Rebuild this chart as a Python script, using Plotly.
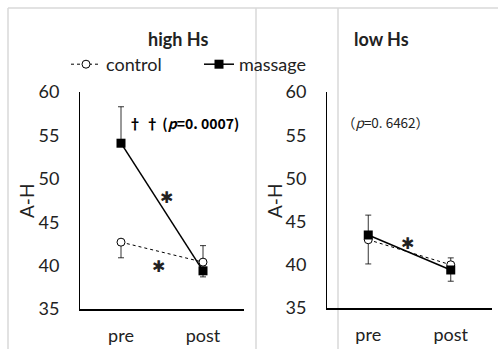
import plotly.graph_objects as go

W, H = 498, 349

categories = ["pre", "post"]
y_ticks = [35, 40, 45, 50, 55, 60]

high_control = [42.7, 40.4]
high_control_plus = [0, 1.9]
high_control_minus = [1.8, 0]
high_massage = [54.1, 39.4]
high_massage_plus = [4.2, 0]
high_massage_minus = [0, 0.7]

low_control = [42.9, 40.0]
low_control_plus = [0, 0.8]
low_control_minus = [2.8, 0]
low_massage = [43.45, 39.4]
low_massage_plus = [2.3, 0]
low_massage_minus = [0, 1.3]

FONT = "Lato, 'Open Sans', sans-serif"
CJK = "'Noto Sans CJK JP', sans-serif"


def px(x):
    return x / W


def py(y):
    return 1 - y / H


fig = go.Figure()


def add_pair(ctrl, cp, cm, mass, mp, mm, xa, ya, show):
    fig.add_trace(go.Scatter(
        x=categories, y=ctrl, name="control", mode="lines+markers",
        xaxis=xa, yaxis=ya, showlegend=show,
        line=dict(color="black", width=1, dash="dot"),
        marker=dict(symbol="circle", size=8, color="white",
                    line=dict(color="black", width=1)),
        error_y=dict(type="data", symmetric=False, array=cp, arrayminus=cm,
                     color="black", thickness=0.8, width=3),
    ))
    fig.add_trace(go.Scatter(
        x=categories, y=mass, name="massage", mode="lines+markers",
        xaxis=xa, yaxis=ya, showlegend=show,
        line=dict(color="black", width=1.5),
        marker=dict(symbol="square", size=9, color="black",
                    line=dict(color="black", width=0)),
        error_y=dict(type="data", symmetric=False, array=mp, arrayminus=mm,
                     color="black", thickness=0.8, width=3),
    ))


add_pair(high_control, high_control_plus, high_control_minus,
         high_massage, high_massage_plus, high_massage_minus, "x", "y", True)
add_pair(low_control, low_control_plus, low_control_minus,
         low_massage, low_massage_plus, low_massage_minus, "x2", "y2", False)

xcommon = dict(type="category", range=[-0.5, 1.5], showline=True,
               linecolor="black", linewidth=2, ticks="", showgrid=False,
               zeroline=False, tickfont=dict(size=18, color="#222", family=FONT),
               ticklabelstandoff=9, fixedrange=True, automargin=False)
ycommon = dict(range=[35, 60], tickvals=y_ticks, showline=True,
               linecolor="black", linewidth=1, ticks="", showgrid=False,
               zeroline=False, tickfont=dict(size=18, color="#222", family=FONT),
               ticklabelstandoff=16, fixedrange=True, automargin=False)

fig.update_layout(
    width=W, height=H,
    margin=dict(l=0, r=0, t=0, b=0, autoexpand=False),
    paper_bgcolor="white", plot_bgcolor="rgba(0,0,0,0)",
    font=dict(family=FONT, color="#222"),
    xaxis=dict(domain=[px(80), px(244)], anchor="y", **xcommon),
    yaxis=dict(domain=[py(309), py(92)], anchor="x", **ycommon),
    xaxis2=dict(domain=[px(327), px(492)], anchor="y2", **xcommon),
    yaxis2=dict(domain=[py(308), py(92)], anchor="x2", **ycommon),
    legend=dict(orientation="h", x=px(66), y=py(46), xanchor="left",
                yanchor="top", font=dict(size=18, family=FONT, color="#222"),
                entrywidth=88, entrywidthmode="pixels",
                bgcolor="rgba(0,0,0,0)", tracegroupgap=0),
    showlegend=True,
)

# frame lines of the two chart boxes
gray = "#d9d9d9"
shapes = [
    dict(type="line", xref="paper", yref="paper", x0=px(8), x1=1, y0=py(8), y1=py(8)),
    dict(type="line", xref="paper", yref="paper", x0=px(8), x1=px(8), y0=py(8), y1=0),
    dict(type="line", xref="paper", yref="paper", x0=px(256), x1=px(256), y0=py(8), y1=0),
    dict(type="line", xref="paper", yref="paper", x0=px(338), x1=px(338), y0=py(8), y1=0),
]
for s in shapes:
    s["line"] = dict(color=gray, width=1.5)
    s["layer"] = "below"
fig.update_layout(shapes=shapes)

ann = [
    dict(text="<b>high Hs</b>", x=px(178), y=py(39), font=dict(size=18, family=FONT)),
    dict(text="<b>low Hs</b>", x=px(352), y=py(39), xanchor="left", font=dict(size=18, family=FONT)),
    dict(text="A-H", x=px(26), y=py(201), textangle=-90, font=dict(size=19, family=FONT)),
    dict(text="A-H", x=px(274), y=py(201), textangle=-90, font=dict(size=19, family=FONT)),
    dict(text="<b>† † (<i>p</i>=0. 0007)</b>", x=px(126), y=py(123), xanchor="left",
         font=dict(size=14, family=CJK, color="black")),
    dict(text="（<i>p</i>=0. 6462）", x=px(340), y=py(122), xanchor="left",
         font=dict(size=13.5, family=CJK, color="#222")),
]
for a in ann:
    a.setdefault("xanchor", "center")
    a["xref"] = "paper"
    a["yref"] = "paper"
    a["yanchor"] = "middle"
    a["showarrow"] = False

stars = [
    dict(x=0.55, y=47.8, xref="x", yref="y"),
    dict(x=0.46, y=39.95, xref="x", yref="y"),
    dict(x=0.48, y=42.5, xref="x2", yref="y2"),
]
for s in stars:
    s.update(text="✱", showarrow=False, font=dict(size=16, family="DejaVu Sans", color="#222"))

fig.update_layout(annotations=ann + stars)

fig.write_html("out.html")
